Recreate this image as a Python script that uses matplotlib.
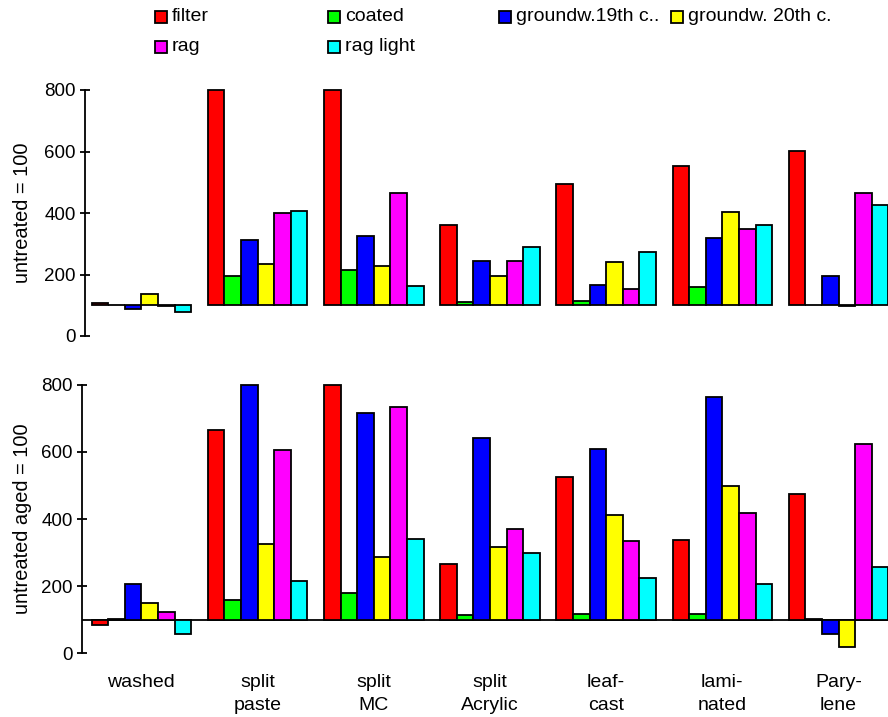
import matplotlib
matplotlib.use("Agg")
import matplotlib.pyplot as plt
from matplotlib.patches import Rectangle

plt.rcParams['font.family'] = ['Liberation Sans', 'DejaVu Sans']

categories = ["washed", "split\npaste", "split\nMC", "split\nAcrylic",
              "leaf-\ncast", "lami-\nnated", "Pary-\nlene"]
series = ["filter", "coated", "groundw.19th c..", "groundw. 20th c.", "rag", "rag light"]
colors = ["#FF0000", "#00FF00", "#0000FF", "#FFFF00", "#FF00FF", "#00FFFF"]

# top panel: untreated = 100
top_filter = [106, 800, 800, 362, 493, 553, 603]
top_coated = [102, 195, 215, 111, 114, 160, 101]
top_gw19 = [88, 312, 326, 243, 167, 318, 195]
top_gw20 = [137, 234, 227, 194, 240, 402, 98]
top_rag = [99, 400, 465, 245, 154, 348, 466]
top_raglight = [79, 406, 162, 290, 273, 360, 427]

# bottom panel: untreated aged = 100
bot_filter = [83, 666, 800, 266, 525, 338, 473]
bot_coated = [101, 158, 180, 114, 117, 117, 101]
bot_gw19 = [205, 800, 716, 640, 608, 764, 57]
bot_gw20 = [151, 325, 287, 316, 413, 497, 19]
bot_rag = [123, 606, 733, 371, 333, 418, 624]
bot_raglight = [57, 216, 341, 299, 223, 207, 258]

top_data = [top_filter, top_coated, top_gw19, top_gw20, top_rag, top_raglight]
bot_data = [bot_filter, bot_coated, bot_gw19, bot_gw20, bot_rag, bot_raglight]
yticks = [0, 200, 400, 600, 800]
baseline = 100

W, H = 888, 717
fig = plt.figure(figsize=(W / 100, H / 100), dpi=100)

bar_px = 16.6
first_bar_px = 91.5


def make_axes(left_px, top_px, bottom_px):
    ax = fig.add_axes([left_px / W, 1 - bottom_px / H, (W - left_px) / W, (bottom_px - top_px) / H])
    ax.set_xlim((left_px - first_bar_px) / bar_px, (W - first_bar_px) / bar_px)
    ax.set_ylim(0, 800)
    for s in ["top", "right", "bottom"]:
        ax.spines[s].set_visible(False)
    ax.spines["left"].set_linewidth(1.3)
    ax.set_yticks(yticks)
    ax.tick_params(axis="y", direction="inout", length=7, width=1.3, labelsize=13.5, pad=3)
    ax.patch.set_visible(False)
    return ax


def draw_bars(ax, data):
    n = len(series)
    for j, vals in enumerate(data):
        xs = [(n + 1) * i + j for i in range(len(vals))]
        ax.bar(xs, [v - baseline for v in vals], width=1.0, bottom=baseline, align="edge",
               color=colors[j], edgecolor="black", linewidth=1.3, clip_on=False, zorder=3)


ax1 = make_axes(85, 90, 336)
draw_bars(ax1, top_data)
ax1.set_xticks([])
ax1.set_ylabel("untreated = 100", fontsize=14.4)
ax1.yaxis.set_label_coords((32 - 85) / (W - 85), 0.5)

ax2 = make_axes(82, 384.7, 653.3)
draw_bars(ax2, bot_data)
ax2.axhline(baseline, color="black", linewidth=1.3, zorder=2)
centers = [7 * i + 3 for i in range(len(categories))]
ax2.set_xticks(centers)
ax2.set_xticklabels(categories, fontsize=14, linespacing=1.45)
ax2.tick_params(axis="x", length=0, pad=15)
ax2.set_ylabel("untreated aged = 100", fontsize=14.4)
ax2.yaxis.set_label_coords((32 - 82) / (W - 82), 0.5)

# legend, drawn by hand
col_px = [155, 328, 499, 671]
row_px = [16.7, 46.7]
for k, name in enumerate(series):
    r, c = divmod(k, 4)
    x0 = col_px[c]
    yc = row_px[r]
    fig.patches.append(Rectangle((x0 / W, 1 - (yc + 6) / H), 12 / W, 12 / H,
                                 transform=fig.transFigure, facecolor=colors[k],
                                 edgecolor="black", linewidth=1.3))
    fig.text((x0 + 17) / W, 1 - yc / H, name, fontsize=14, va="center", ha="left")

fig.savefig("out.png", dpi=100)
